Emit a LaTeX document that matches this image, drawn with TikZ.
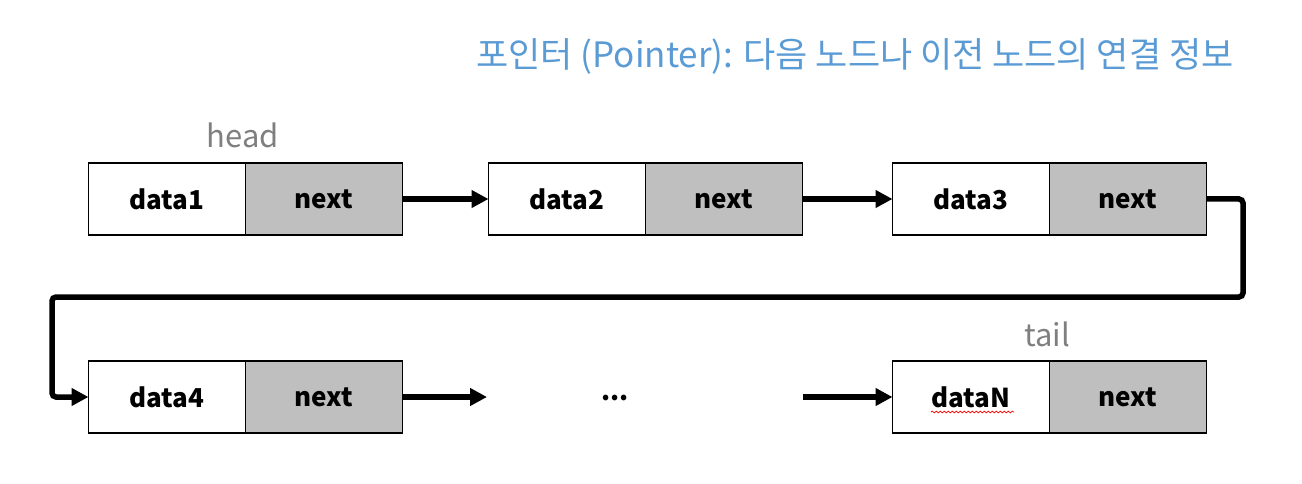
\documentclass[tikz,border=0pt]{standalone}
\usepackage{fontspec}
\setmainfont{Noto Sans CJK KR}
\usetikzlibrary{arrows.meta,decorations.pathmorphing}
\definecolor{titleblue}{HTML}{5B9BD5}
\definecolor{labelgray}{HTML}{7F7F7F}
\definecolor{nextgray}{HTML}{BFBFBF}
\begin{document}
\begin{tikzpicture}[x=1pt,y=-1pt,
  cell/.style={draw=black,line width=1.5pt,minimum width=157pt,minimum height=72pt,inner sep=0pt,outer sep=0pt,font=\fontsize{26}{30}\selectfont\bfseries},
  datacell/.style={cell,fill=white},
  nextcell/.style={cell,fill=nextgray,anchor=west},
  link/.style={line width=5.5pt,-{Triangle[length=17pt,width=17pt]}},
  lbl/.style={text=labelgray,font=\fontsize{31}{36}\selectfont}]
\useasboundingbox (0,0) rectangle (1302,484);
\node[text=titleblue,font=\fontsize{35}{40}\selectfont] (title) at (855,56) {포인터 (Pointer): 다음 노드나 이전 노드의 연결 정보};
\node[lbl] (head) at (243,135) {head};
\node[lbl] (tail) at (1047,334) {tail};
% row 1
\node[datacell] (d1) at (167,199) {data1};
\node[nextcell] (n1) at (d1.east) {next};
\node[datacell] (d2) at (567,199) {data2};
\node[nextcell] (n2) at (d2.east) {next};
\node[datacell] (d3) at (971,199) {data3};
\node[nextcell] (n3) at (d3.east) {next};
% row 2
\node[datacell] (d4) at (167,397) {data4};
\node[nextcell] (n4) at (d4.east) {next};
\node[datacell] (dN) at (971,397) {dataN};
\node[nextcell] (nN) at (dN.east) {next};
\node[font=\fontsize{26}{30}\selectfont\bfseries] (dots) at (615,398) {...};
\coordinate (g1) at (487,397);
\coordinate (g2) at (803,397);
% links
\draw[link] (n1.east) -- (d2.west);
\draw[link] (n2.east) -- (d3.west);
\draw[link,rounded corners=4pt] (n3.east) -| (1243,297) -- (52,297) |- (d4.west);
\draw[link] (n4.east) -- (g1);
\draw[link] (g2) -- (dN.west);
% spell-check squiggle
\draw[red,line width=0.7pt,decorate,decoration={snake,amplitude=0.9pt,segment length=4pt}] (931,412) -- (1014,412);
\end{tikzpicture}
\end{document}
